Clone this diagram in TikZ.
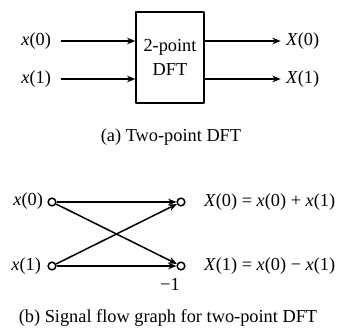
\documentclass[tikz,border=0pt]{standalone}
\usepackage{fontspec}
\setmainfont{Liberation Serif}
\usetikzlibrary{arrows.meta}
\newcommand{\sg}[2]{\textit{#1}(#2)}

\begin{document}
\begin{tikzpicture}[x=0.6pt,y=-0.6pt,line join=round,>={Stealth[length=5pt,width=4pt]},
    font=\fontsize{11}{13}\selectfont,
    blk/.style={draw,line width=0.9pt,minimum width=40.8pt,minimum height=54.6pt,align=center,inner sep=1pt},
    sig/.style={line width=0.9pt},
    pt/.style={circle,draw,line width=0.9pt,minimum size=4.6pt,inner sep=0pt},
    lbl/.style={inner sep=1pt}]
    \useasboundingbox (0,0) rectangle (340,327);
    %=============================== (a)
    \node[blk] (dft) at (170,57.5) {2-point\\[1pt]DFT};
    \node[lbl,anchor=east] (ia0) at (53,41) {\sg{x}{0}};
    \node[lbl,anchor=east] (ia1) at (53,79) {\sg{x}{1}};
    \node[lbl,anchor=west] (oa0) at (284,41) {\sg{X}{0}};
    \node[lbl,anchor=west] (oa1) at (284,79) {\sg{X}{1}};
    \draw[sig,->,shorten <=5pt] (ia0.east) -- (dft.west |- ia0);
    \draw[sig,->,shorten <=5pt] (ia1.east) -- (dft.west |- ia1);
    \draw[sig,->,shorten >=2pt] (dft.east |- oa0) -- (oa0.west);
    \draw[sig,->,shorten >=2pt] (dft.east |- oa1) -- (oa1.west);
    \node (capa) at (171,137) {(a) Two-point DFT};
    %=============================== (b)
    \node[pt] (a0) at (52,202) {};
    \node[pt] (a1) at (52,266) {};
    \node[pt] (b0) at (181,202) {};
    \node[pt] (b1) at (181,266) {};
    \node[lbl,anchor=east] (ib0) at (45,201) {\sg{x}{0}};
    \node[lbl,anchor=east] (ib1) at (43,266) {\sg{x}{1}};
    \node[lbl,anchor=west] (ob0) at (202,202) {\sg{X}{0} = \sg{x}{0} + \sg{x}{1}};
    \node[lbl,anchor=west] (ob1) at (202,266) {\sg{X}{1} = \sg{x}{0} − \sg{x}{1}};
    \draw[sig,->] (a0) -- (b0);
    \draw[sig,->] (a0) -- (b1);
    \draw[sig,->] (a1) -- (b0);
    \draw[sig,->] (a1) -- (b1);
    \node[lbl] (gain) at (170,284) {−1};
    \node (capb) at (168,318) {(b) Signal flow graph for two-point DFT};
\end{tikzpicture}
\end{document}
